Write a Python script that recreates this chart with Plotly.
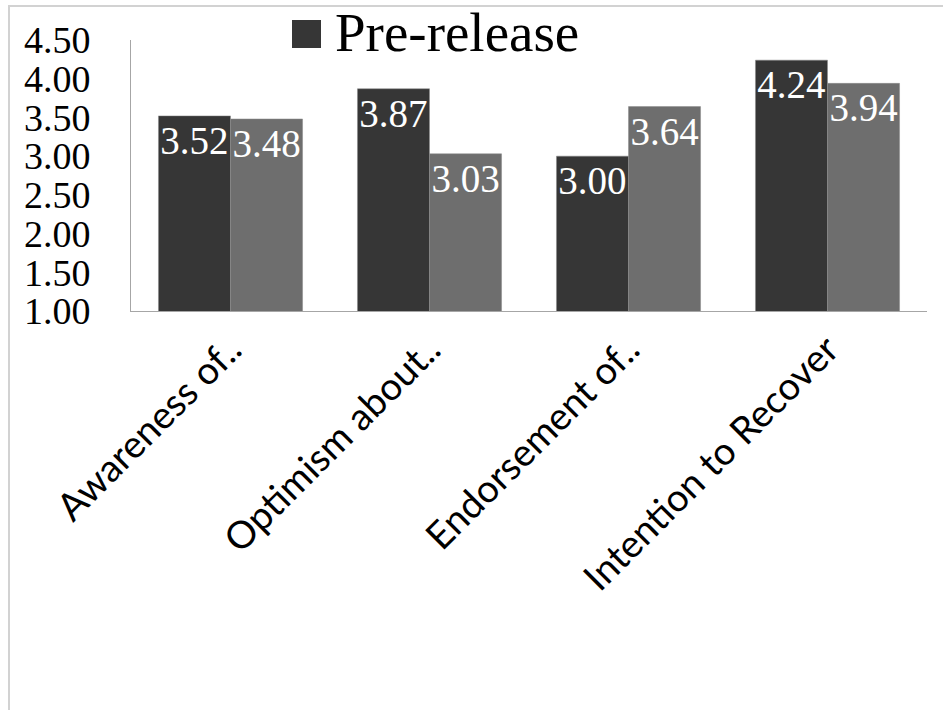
import plotly.graph_objects as go

categories = ["Awareness of..", "Optimism about..", "Endorsement of..", "Intention to Recover"]
series_names = ["Pre-release", "Post-release"]
pre_values = [3.52, 3.87, 3.00, 4.24]
post_values = [3.48, 3.03, 3.64, 3.94]
y_ticks = [1.0, 1.5, 2.0, 2.5, 3.0, 3.5, 4.0, 4.5]

colors = ["#363636", "#6e6e6e"]
serif = "Liberation Serif"

fig = go.Figure()
for name, vals, col in zip(series_names, [pre_values, post_values], colors):
    fig.add_trace(go.Bar(
        x=categories, y=vals, name=name,
        marker=dict(color=col, line=dict(color="#8a8a8a", width=0.5)),
        text=[f"{v:.2f}" for v in vals],
        textposition="inside", insidetextanchor="end", textangle=0,
        textfont=dict(family=serif, size=39, color="white"),
        constraintext="none",
        cliponaxis=False,
        showlegend=False,
    ))

L, R, T, B = 131, 16, 40, 399
W, H = 943, 710
pw, ph = W - L - R, H - T - B
def px(x):
    return (x - L) / pw
def py(y):
    return (H - B - y) / ph

fig.update_layout(
    width=W, height=H,
    margin=dict(l=L, r=R, t=T, b=B, autoexpand=False),
    paper_bgcolor="white", plot_bgcolor="white",
    barmode="group", bargap=0.276, bargroupgap=0,
    xaxis=dict(
        showline=True, linecolor="#a6a6a6", linewidth=1,
        showgrid=False, ticks="", tickangle=-45,
        tickfont=dict(family="Lato", size=38, color="black"),
        automargin=False,
    ),
    yaxis=dict(
        range=[1, 4.5], tickvals=y_ticks, tickformat=".2f",
        showline=True, linecolor="#a6a6a6", linewidth=1,
        showgrid=False, ticks="", zeroline=False,
        tickfont=dict(family=serif, size=38, color="black"),
        ticklabelstandoff=32, automargin=False,
    ),
    shapes=[
        dict(type="rect", xref="paper", yref="paper",
             x0=px(9), x1=px(960), y0=py(730), y1=py(6),
             line=dict(color="#d2d2d2", width=2), fillcolor="rgba(0,0,0,0)", layer="below"),
        dict(type="rect", xref="paper", yref="paper",
             x0=px(292), x1=px(321), y0=py(48), y1=py(20),
             line=dict(width=0), fillcolor=colors[0]),
    ],
    annotations=[
        dict(text=series_names[0], xref="paper", yref="paper",
             x=px(333), y=py(33), xanchor="left", yanchor="middle",
             showarrow=False, font=dict(family=serif, size=55, color="black")),
    ],
)
fig.write_html("out.html")
